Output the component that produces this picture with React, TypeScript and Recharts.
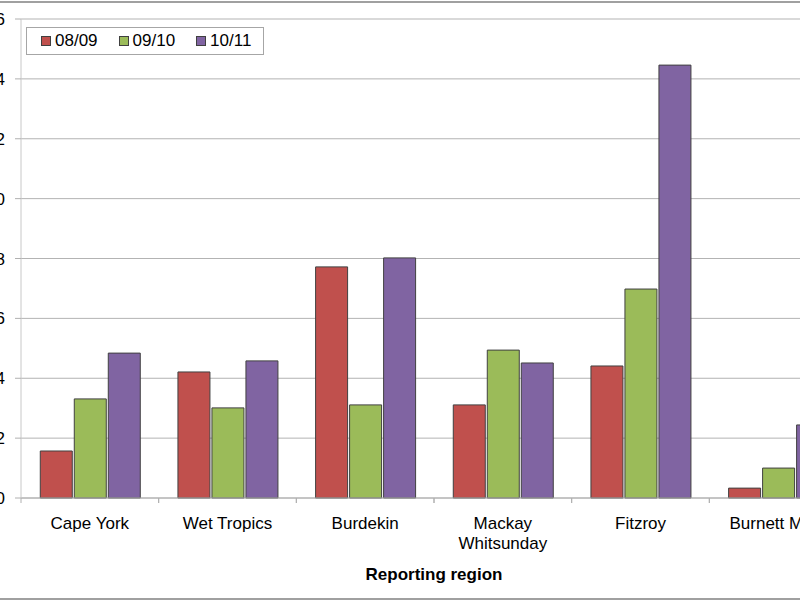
import React from 'react';
import { BarChart, Bar, XAxis, YAxis, CartesianGrid, Legend, Label } from 'recharts';

const regions = ['Cape York', 'Wet Tropics', 'Burdekin', 'Mackay Whitsunday', 'Fitzroy', 'Burnett Mary'];
const season0809 = [1.57, 4.21, 7.72, 3.11, 4.41, 0.33];
const season0910 = [3.31, 3.01, 3.11, 4.94, 6.98, 1.0];
const season1011 = [4.84, 4.58, 8.02, 4.51, 14.46, 2.44];
const yTicks = [0, 2, 4, 6, 8, 10, 12, 14, 16];

const series = [
  { key: 's0809', name: '08/09', color: '#C0504D' },
  { key: 's0910', name: '09/10', color: '#9BBB59' },
  { key: 's1011', name: '10/11', color: '#8064A2' },
];

const data = regions.map((region, i) => ({
  region,
  s0809: season0809[i],
  s0910: season0910[i],
  s1011: season1011[i],
}));

const FONT = '"Liberation Sans", Arial, sans-serif';
const CHART_W = 950;
const CHART_H = 600;
const MARGIN = { top: 19, right: 53, bottom: 17, left: 21 };
const Y_AXIS_W = 50;
const BAND = (CHART_W - MARGIN.left - MARGIN.right - Y_AXIS_W) / regions.length;
const X_TICK_SIZE = 5;
const X_TICK_MARGIN = 11;

// category label, wrapped onto two lines when long; tick marks sit between categories
const CategoryTick = (props: any) => {
  const { x, y, payload } = props;
  const value: string = payload.value;
  const lines = value.length > 13 ? value.split(' ') : [value];
  const axisY = y - X_TICK_SIZE - X_TICK_MARGIN;
  return (
    <g>
      <line x1={x - BAND / 2} x2={x - BAND / 2} y1={axisY} y2={axisY + X_TICK_SIZE} stroke="#b0b0b0" />
      <line x1={x + BAND / 2} x2={x + BAND / 2} y1={axisY} y2={axisY + X_TICK_SIZE} stroke="#b0b0b0" />
      <text x={x} y={y + 15} textAnchor="middle" fontSize={17} fontFamily={FONT} fill="#000">
        {lines.map((line, i) => (
          <tspan key={i} x={x} dy={i === 0 ? 0 : 20}>
            {line}
          </tspan>
        ))}
      </text>
    </g>
  );
};

const LegendBox = ({ payload }: any) => (
  <div
    style={{
      display: 'flex',
      alignItems: 'center',
      border: '1px solid #a6a6a6',
      background: '#fff',
      height: 26,
      padding: '0 12px 0 14px',
      fontFamily: FONT,
      fontSize: 17,
      color: '#000',
      whiteSpace: 'nowrap',
    }}
  >
    {(payload || []).map((p: any, i: number) => (
      <span key={p.value} style={{ display: 'flex', alignItems: 'center', marginLeft: i === 0 ? 0 : 21 }}>
        <span
          style={{
            display: 'inline-block',
            width: 8,
            height: 8,
            background: p.color,
            border: '1px solid #404040',
            marginRight: 4,
          }}
        />
        {p.value}
      </span>
    ))}
  </div>
);

export default function App() {
  return (
    <div
      style={{
        position: 'fixed',
        left: 0,
        top: 0,
        width: 800,
        height: 600,
        overflow: 'hidden',
        background: '#fff',
      }}
    >
      <div
        style={{
          position: 'absolute',
          left: -10,
          top: 1,
          width: 820,
          height: 595,
          borderTop: '2px solid #a0a0a0',
          borderBottom: '2px solid #a0a0a0',
        }}
      />
      <div style={{ position: 'absolute', left: -50, top: 0 }}>
        <BarChart
          width={CHART_W}
          height={CHART_H}
          data={data}
          margin={MARGIN}
          barCategoryGap="14%"
          barGap={2}
        >
          <CartesianGrid vertical={false} stroke="#b3b3b3" />
          <XAxis
            dataKey="region"
            height={85}
            interval={0}
            axisLine={{ stroke: '#b0b0b0' }}
            tickLine={false}
            tickSize={X_TICK_SIZE}
            tickMargin={X_TICK_MARGIN}
            tick={<CategoryTick />}
          >
            <Label
              value="Reporting region"
              position="insideBottom"
              offset={3}
              style={{ fontFamily: FONT, fontSize: 17, fontWeight: 'bold', fill: '#000' }}
            />
          </XAxis>
          <YAxis
            width={Y_AXIS_W}
            domain={[0, 16]}
            ticks={yTicks}
            interval={0}
            axisLine={{ stroke: '#c8c8c8' }}
            tickLine={{ stroke: '#b0b0b0' }}
            tickSize={6}
            tickMargin={10}
            tick={{ fontFamily: FONT, fontSize: 17, fill: '#000' }}
          />
          <Legend
            layout="horizontal"
            verticalAlign="middle"
            align="center"
            wrapperStyle={{ left: 76, top: 27, width: 'auto', height: 'auto' }}
            content={<LegendBox />}
          />
          {series.map((s) => (
            <Bar
              key={s.key}
              dataKey={s.key}
              name={s.name}
              fill={s.color}
              stroke="#404040"
              strokeWidth={1}
              isAnimationActive={false}
            />
          ))}
        </BarChart>
      </div>
    </div>
  );
}
